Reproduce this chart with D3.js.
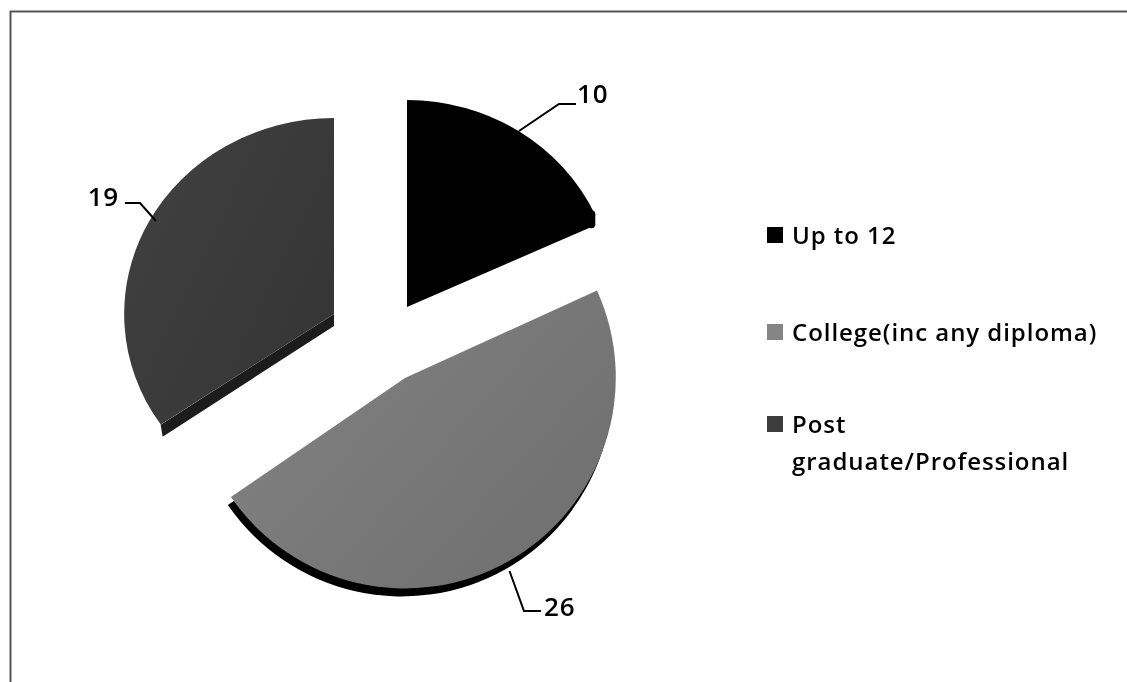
<!DOCTYPE html>
<html><head><meta charset="utf-8">
<script src="https://cdn.jsdelivr.net/npm/d3@7/dist/d3.min.js"></script>
<style>html,body{margin:0;padding:0;background:#fff;overflow:hidden}svg{display:block;filter:blur(0.7px)}text{font-family:"Open Sans",sans-serif;fill:#000;font-weight:600}</style>
</head><body><svg id="c" width="1127" height="682"></svg>
<script>
const categories = ["Up to 12", "College(inc any diploma)", "Post graduate/Professional"];
const values = [10, 26, 19];
const legendLines = [["Up to 12"], ["College(inc any diploma)"], ["Post", "graduate/Professional"]];

const W = 1127, H = 682;
const svg = d3.select("#c");
const defs = svg.append("defs");
const colorStops = [["#000","#000"],["#828282","#6e6e6e"],["#404040","#343434"]];
const wallColors = ["#000","#000","#1c1c1c"];
const legendColors = ["#000","#858585","#3c3c3c"];

colorStops.forEach((s,i)=>{
  const g = defs.append("linearGradient").attr("id","g"+i).attr("x1","0").attr("y1","0.2").attr("x2","1").attr("y2","0.9");
  g.append("stop").attr("offset","0").attr("stop-color",s[0]);
  g.append("stop").attr("offset","1").attr("stop-color",s[1]);
});

// frame: open on the right and bottom
svg.append("path").attr("d",`M10.5,${H} V11.5 H${W}`).attr("fill","none").attr("stroke","#555").attr("stroke-width",2);

// pie layout: each exploded slice has its own centre, flattening and wall offset
const layout = [
  {cx:407, cy:297, rx:207, ry:197, wx:0, wy:10, edgeOnly:false, roundTip:true},
  {cx:405, cy:378, rx:211, ry:211, wx:-3, wy:8, edgeOnly:false},
  {cx:334, cy:314, rx:210, ry:196, wx:0, wy:12, edgeOnly:true}
];
const arcs = d3.pie().sort(null)(values);
const arc = d3.arc().innerRadius(0).outerRadius(1);
const g = svg.append("g");
arcs.forEach((a,i)=>{
  const L = layout[i];
  if (L.edgeOnly) {
    const ex = L.cx + L.rx*Math.sin(a.startAngle), ey = L.cy - L.ry*Math.cos(a.startAngle);
    g.append("path").attr("fill",wallColors[i])
      .attr("d",d3.line()([[L.cx,L.cy],[ex,ey],[ex+2,ey+L.wy],[L.cx,L.cy+L.wy]])+"Z");
  } else {
    g.append("path").attr("d",arc(a)).attr("fill",wallColors[i])
      .attr("transform",`translate(${L.cx+L.wx},${L.cy+L.wy}) scale(${L.rx},${L.ry})`);
  }
  if (L.roundTip) {
    const ex = L.cx + L.rx*Math.sin(a.endAngle), ey = L.cy - L.ry*Math.cos(a.endAngle);
    g.append("path").attr("d",d3.line()([[ex-4,ey-1],[ex-4,ey+L.wy-1]]))
      .attr("stroke",wallColors[i]).attr("stroke-width",8).attr("stroke-linecap","round").attr("fill","none");
  }
  g.append("path").attr("d",arc(a)).attr("fill",`url(#g${i})`)
    .attr("transform",`translate(${L.cx},${L.cy}) scale(${L.rx},${L.ry})`);
});

// leader lines and labels
const leaders = [
  {pts:[[519,131],[559,104],[576,104]], tx:577, ty:93, a:"start"},
  {pts:[[509.5,571],[524,611],[541,611]], tx:544, ty:606, a:"start"},
  {pts:[[156,221],[140,203],[125,203]], tx:119, ty:196, a:"end"}
];
const line = d3.line();
leaders.forEach((l,i)=>{
  svg.append("path").attr("d",line(l.pts)).attr("fill","none").attr("stroke","#000").attr("stroke-width",2);
  svg.append("text").attr("x",l.tx).attr("y",l.ty).attr("text-anchor",l.a).attr("dominant-baseline","central")
    .attr("font-size",26).attr("letter-spacing",0.8).text(values[i]);
});

// legend
const legendY = [234, 331, 423];
legendLines.forEach((lines,i)=>{
  svg.append("rect").attr("x",767).attr("y",legendY[i]-7).attr("width",16).attr("height",16).attr("fill",legendColors[i]);
  lines.forEach((t,j)=>{
    svg.append("text").attr("x",792).attr("y",legendY[i]+j*37).attr("dominant-baseline","central")
      .attr("font-size",24).attr("letter-spacing",0.95).text(t);
  });
});
</script></body></html>
